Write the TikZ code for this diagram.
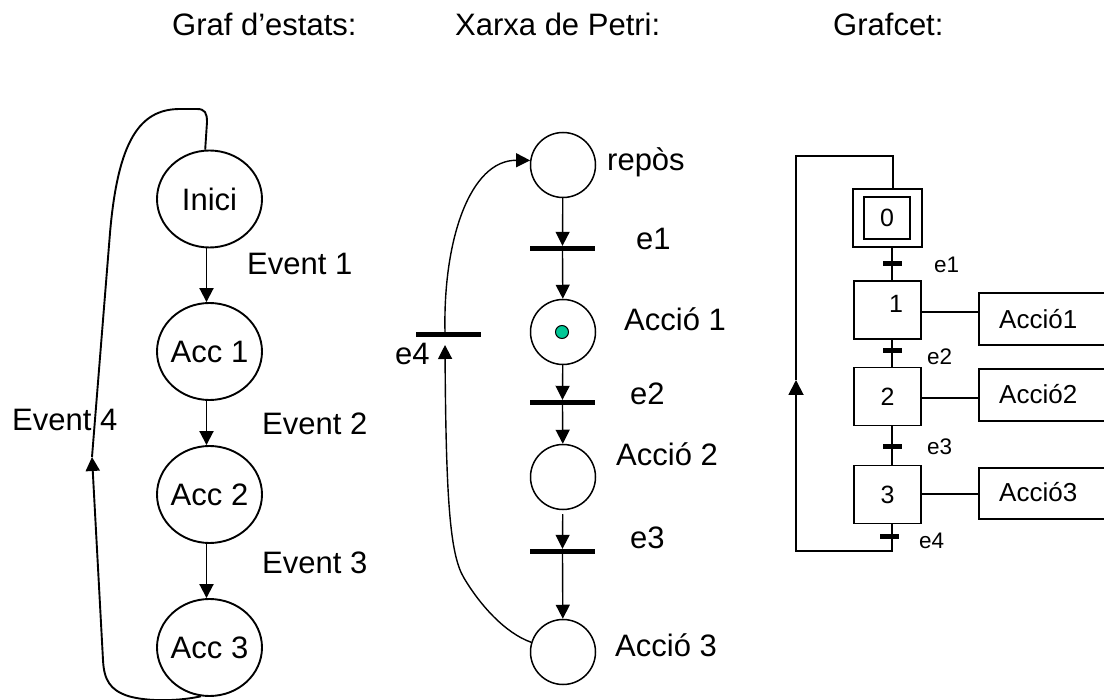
\documentclass[tikz,border=0pt]{standalone}
\usepackage{fontspec}
\setmainfont{Liberation Sans}
\usetikzlibrary{arrows.meta,shapes.geometric}
\definecolor{tokengreen}{RGB}{0,200,150}
\begin{document}
\begin{tikzpicture}[x=1pt,y=-1pt,
  bigfont/.style={font=\fontsize{31}{37}\selectfont},
  lbl/.style={bigfont, anchor=base west, inner sep=0pt},
  gfont/.style={font=\fontsize{25}{30}\selectfont},
  slbl/.style={font=\fontsize{22.5}{27}\selectfont, anchor=base west, inner sep=0pt},
  actlbl/.style={font=\fontsize{26}{31}\selectfont, anchor=base west, inner sep=0pt},
  arw/.style={-{Triangle[length=14pt,width=14pt]}},
  stnode/.style={ellipse, draw, line width=1.9pt, minimum width=105pt, minimum height=97pt, inner sep=0pt, bigfont},
  sline/.style={line width=1.9pt},
  pnode/.style={circle, draw, line width=1.5pt, minimum size=65pt, inner sep=0pt},
  pline/.style={line width=1.4pt},
  pbar/.style={fill=black, minimum width=65pt, minimum height=5pt, inner sep=0pt},
  gline/.style={line width=1.9pt},
  stepbox/.style={draw, line width=1.9pt, minimum width=67pt, minimum height=58pt, inner sep=0pt, gfont},
  gbar/.style={fill=black, minimum width=19pt, minimum height=5pt, inner sep=0pt},
  actbox/.style={draw, line width=1.9pt, anchor=west, minimum width=145pt, inner sep=0pt},
]
\useasboundingbox (0,0) rectangle (1104,700);
\clip (0,0) rectangle (1104,700);

% titles
\node[lbl] (ttla) at (172,36) {Graf d’estats:};
\node[lbl] (ttlb) at (455,36) {Xarxa de Petri:};
\node[lbl] (ttlc) at (833,36) {Grafcet:};

% ---------- state graph ----------
\node[stnode] (inici) at (209.5,199) {\makebox[0pt]{Inici}};
\node[stnode] (acc1) at (209.5,351.5) {\makebox[0pt]{Acc 1}};
\node[stnode] (acc2) at (209.5,494.5) {\makebox[0pt]{Acc 2}};
\node[stnode] (acc3) at (209.5,647.5) {\makebox[0pt]{Acc 3}};
\draw[sline,arw] ([xshift=-3pt]inici.south) -- ([xshift=-3pt]acc1.north);
\draw[sline,arw] ([xshift=-3pt]acc1.south) -- ([xshift=-3pt]acc2.north);
\draw[sline,arw] ([xshift=-3pt]acc2.south) -- ([xshift=-3pt]acc3.north);
\coordinate (lq) at (92,457);
\draw[sline,arw] (acc3.-100) .. controls (180,701) and (148,702) .. (128,696)
   .. controls (110,690) and (104,680) .. (103,660) -- (lq);
\draw[sline] (lq) -- (110,233) .. controls (118,140) and (140,109) .. (180,109)
   -- (197,109) .. controls (205,109) and (207,113) .. (207,122) -- (inici.95);
\node[lbl] (ev1) at (247,275) {Event 1};
\node[lbl] (ev2) at (262,435) {Event 2};
\node[lbl] (ev3) at (262,573) {Event 3};
\node[lbl] (ev4) at (12,431) {Event 4};

% ---------- Petri net ----------
\node[pnode] (p0) at (563,165) {};
\node[pnode] (p1) at (563,332) {};
\node[pnode] (p2) at (563,477) {};
\node[pnode] (p3) at (563,652) {};
\node[circle, draw, line width=1pt, fill=tokengreen, minimum size=13pt, inner sep=0pt] (tok) at (562,332) {};
\node[pbar] (t1) at (562.5,248.5) {};
\node[pbar] (t2) at (562.5,402.5) {};
\node[pbar] (t3) at (562.5,551.5) {};
\node[pbar] (t4) at (448,334.5) {};
\draw[pline,arw] (p0) -- (t1.north);
\draw[pline,arw] (t1.south) -- (p1);
\draw[pline,arw] (p1) -- (t2.north);
\draw[pline,arw] (t2.south) -- (p2);
\draw[pline,arw,shorten <=4pt] (p2) -- (t3.north);
\draw[pline,arw] (t3.south) -- (p3);
\coordinate (pq) at (445,345);
\draw[pline,arw] (p3.163) .. controls (505,633) and (480,605) .. (464,578)
   .. controls (450,555) and (446,500) .. (pq);
\draw[pline,arw] ([xshift=-3pt]t4.north) .. controls (443,240) and (470,160) .. (p0.172);
\node[lbl] (lrep) at (607,171) {repòs};
\node[lbl] (le1) at (636,250) {e1};
\node[lbl] (la1) at (624,331) {Acció 1};
\node[lbl] (le2) at (630,405) {e2};
\node[lbl] (la2) at (616,466) {Acció 2};
\node[lbl] (le3) at (630,549) {e3};
\node[lbl] (la3) at (615,656) {Acció 3};
\node[lbl] (le4) at (395,365) {e4};

% ---------- Grafcet ----------
\node[stepbox, minimum width=69pt] (s0) at (887.5,218) {};
\node[draw, line width=1.9pt, minimum width=46pt, minimum height=42pt, inner sep=0pt, gfont] (s0i) at (887,218) {0};
\node[stepbox] (s1) at (887.5,310) {};
\node[gfont, inner sep=0pt] (n1) at (896,304) {1};
\node[stepbox] (s2) at (887.5,396.5) {2};
\node[stepbox] (s3) at (887.5,494.5) {3};
\draw[gline] ([xshift=4.5pt]s0.south) -- ([xshift=4.5pt]s1.north);
\draw[gline] ([xshift=4.5pt]s1.south) -- ([xshift=4.5pt]s2.north);
\draw[gline] ([xshift=4.5pt]s2.south) -- ([xshift=4.5pt]s3.north);
\node[gbar] (g1) at (892.5,263.5) {};
\node[gbar] (g2) at (892.5,350.5) {};
\node[gbar] (g3) at (892.5,446.5) {};
\node[gbar] (g4) at (889.5,536.5) {};
\coordinate (gq) at (796,380);
\draw[gline,-{Triangle[length=15pt,width=15pt]}] ([xshift=4.5pt]s3.south) -- (892,551) -| (gq);
\draw[gline] (gq) |- (893,156) -- ([xshift=5.5pt]s0.north);
\node[actbox, minimum height=52pt] (a1) at (978,319) {};
\node[actbox, minimum height=52pt] (a2) at (978,395) {};
\node[actbox, minimum height=51pt] (a3) at (978,493.5) {};
\node[actlbl] (a1t) at (999,329) {Acció1};
\node[actlbl] (a2t) at (999,404) {Acció2};
\node[actlbl] (a3t) at (999,502) {Acció3};
\draw[gline] ([yshift=-2pt]s1.east) -- ([yshift=-2pt]s1.east -| a1.west);
\draw[gline] ([yshift=-1.5pt]s2.east) -- ([yshift=-1.5pt]s2.east -| a2.west);
\draw[gline] ([yshift=0.5pt]s3.east) -- ([yshift=0.5pt]s3.east -| a3.west);
\node[slbl] (ge1) at (934,273) {e1};
\node[slbl] (ge2) at (927,365) {e2};
\node[slbl] (ge3) at (927,455) {e3};
\node[slbl] (ge4) at (919,548) {e4};
\end{tikzpicture}
\end{document}
